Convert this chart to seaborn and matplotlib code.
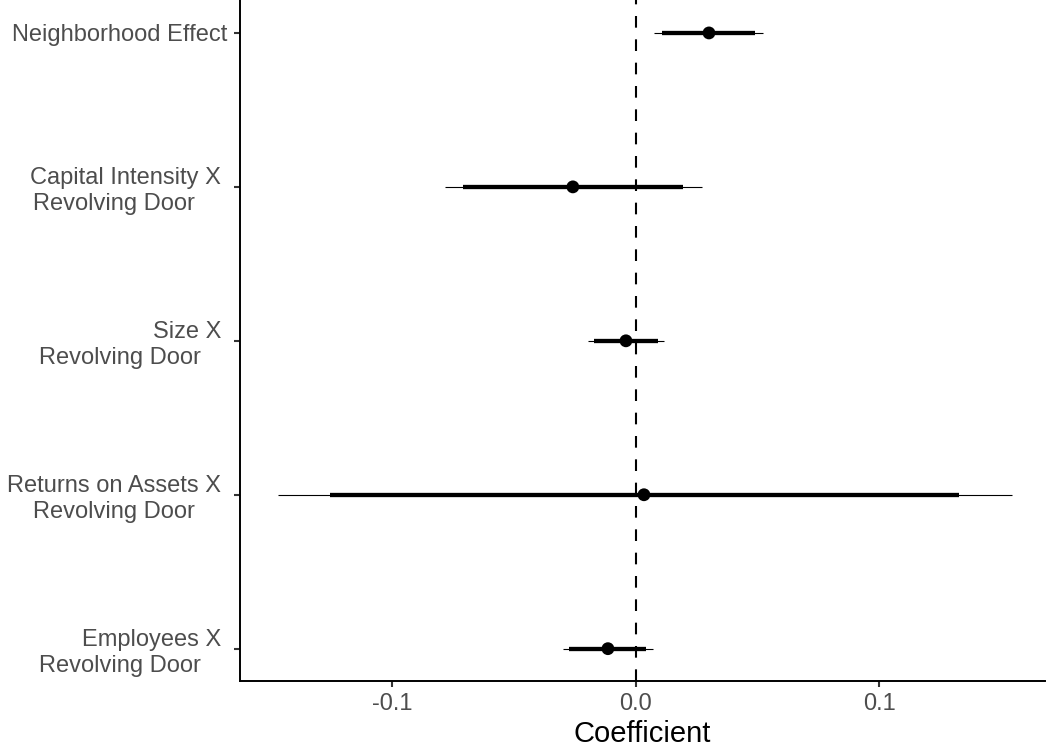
import matplotlib
matplotlib.use("Agg")
import matplotlib.pyplot as plt
import seaborn as sns
import pandas as pd

# ---- data ----
terms = [
    "Neighborhood Effect",
    "Capital Intensity X \nRevolving Door     ",
    "Size X \nRevolving Door    ",
    "Returns on Assets X \nRevolving Door     ",
    "Employees X \nRevolving Door    ",
]
coef = [0.0300, -0.0259, -0.0041, 0.0033, -0.0115]
lo95 = [0.0074, -0.0784, -0.0197, -0.1470, -0.0300]
hi95 = [0.0522, 0.0271, 0.0115, 0.1544, 0.0070]
lo90 = [0.0107, -0.0710, -0.0172, -0.1257, -0.0275]
hi90 = [0.0489, 0.0193, 0.0090, 0.1326, 0.0041]
xticks = [-0.1, 0.0, 0.1]
xticklabels = ["-0.1", "0.0", "0.1"]

df = pd.DataFrame({"term": terms, "coef": coef, "lo95": lo95, "hi95": hi95,
                   "lo90": lo90, "hi90": hi90})

sns.set_theme(style="ticks")
plt.rcParams["font.family"] = ["Liberation Sans", "DejaVu Sans"]

fig = plt.figure(figsize=(10.49, 7.49), dpi=100)
ax = fig.add_axes([240 / 1049, 68 / 749, 805 / 1049, 681 / 749])

ax.axvline(0, color="black", lw=1.5, linestyle=(0, (5.6, 5.6)), zorder=1)
ax.hlines(df["term"], df["lo95"], df["hi95"], color="black", lw=0.8, zorder=2)
ax.hlines(df["term"], df["lo90"], df["hi90"], color="black", lw=3.1, zorder=2)
sns.scatterplot(data=df, x="coef", y="term", color="black", s=85,
                edgecolor="none", zorder=3, ax=ax)

ax.set_xlim(-0.1626, 0.168)
ax.set_ylim(4.21, -0.214)
ax.set_xticks(xticks)
ax.set_xticklabels(xticklabels)

for side in ["top", "right"]:
    ax.spines[side].set_visible(False)
for side in ["left", "bottom"]:
    ax.spines[side].set_linewidth(1.4)
    ax.spines[side].set_color("black")

ax.tick_params(axis="both", length=4.5, width=1.5, color="#333333",
               labelcolor="#4D4D4D", labelsize=17)
ax.tick_params(axis="x", pad=4.5)
ax.tick_params(axis="y", pad=4.5)
for lab in ax.get_yticklabels():
    lab.set_multialignment("right")

ax.set_ylabel("")
ax.set_xlabel("Coefficient", fontsize=21, color="black", labelpad=3)

fig.savefig("out.png", dpi=100, facecolor="white")
